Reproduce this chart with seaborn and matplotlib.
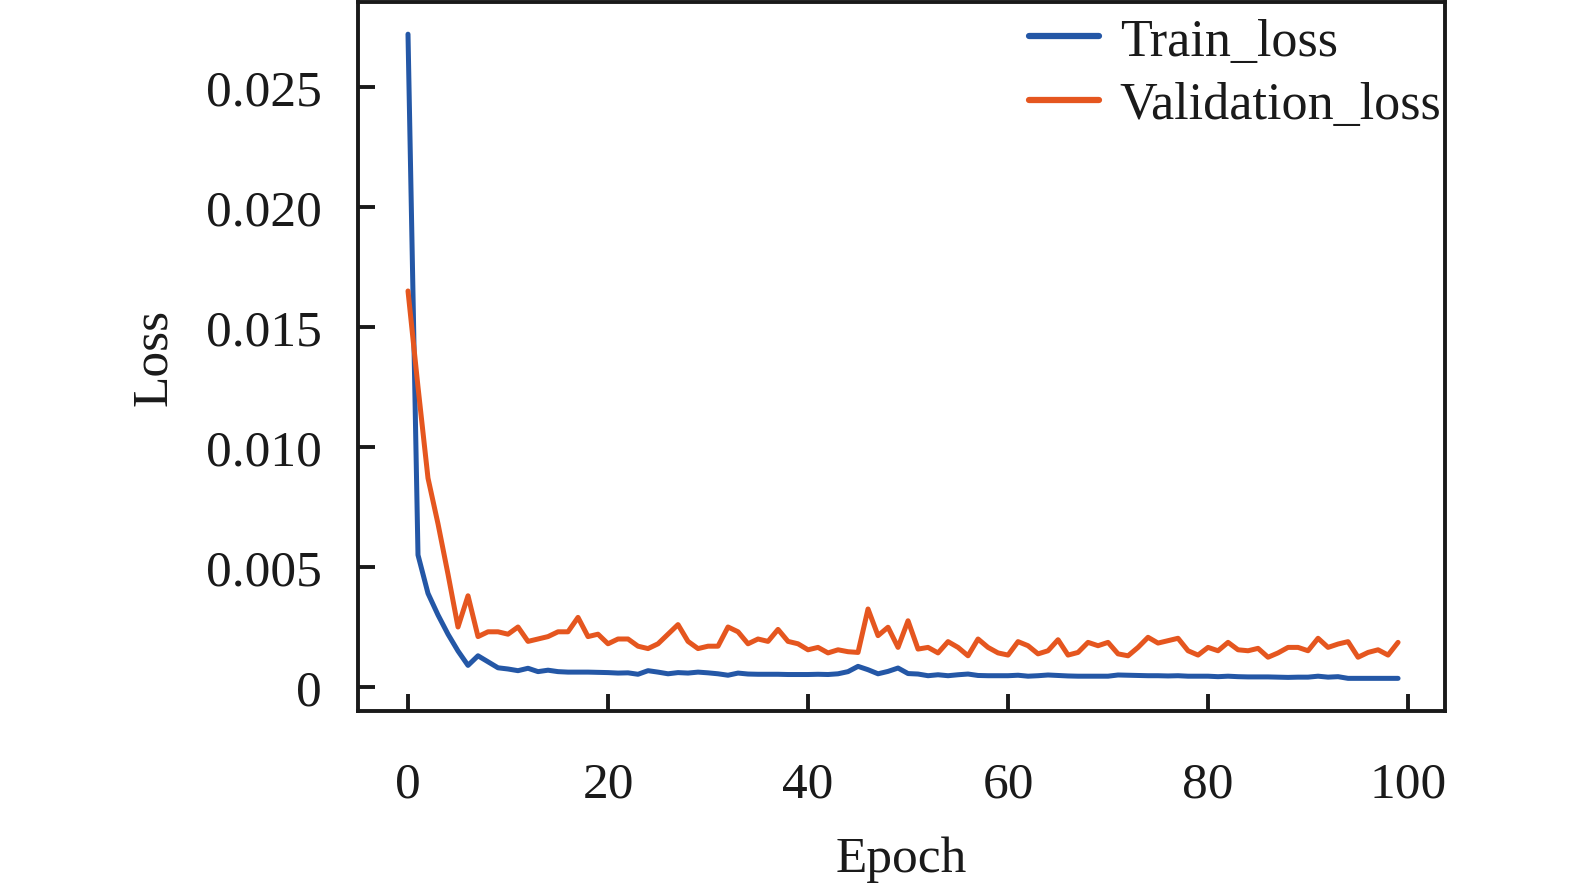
import numpy as np
import pandas as pd
import matplotlib
matplotlib.use("Agg")
import matplotlib.pyplot as plt
import seaborn as sns

epochs = list(range(100))

train_loss = [
    0.0272, 0.0055, 0.0039, 0.0030, 0.0022, 0.0015, 0.0009, 0.0013, 0.00105, 0.0008,
    0.00075, 0.00068, 0.00078, 0.00064, 0.0007, 0.00064, 0.00062, 0.00062, 0.00062, 0.00061,
    0.0006, 0.00058, 0.00059, 0.00053, 0.00068, 0.00062, 0.00055, 0.0006, 0.00058, 0.00062,
    0.00059, 0.00055, 0.00049, 0.00058, 0.00054, 0.00053, 0.00053, 0.00053, 0.00052, 0.00052,
    0.00052, 0.00053, 0.00052, 0.00055, 0.00064, 0.00086, 0.00072, 0.00055, 0.00065, 0.00079,
    0.00056, 0.00054, 0.00047, 0.00051, 0.00047, 0.00051, 0.00054, 0.00048, 0.00047, 0.00047,
    0.00047, 0.00049, 0.00045, 0.00047, 0.0005, 0.00048, 0.00046, 0.00045, 0.00045, 0.00045,
    0.00045, 0.0005, 0.00049, 0.00048, 0.00047, 0.00047, 0.00046, 0.00047, 0.00045, 0.00045,
    0.00045, 0.00043, 0.00045, 0.00043, 0.00042, 0.00042, 0.00042, 0.00041, 0.0004, 0.00041,
    0.00041, 0.00045, 0.00041, 0.00043, 0.00036, 0.00036, 0.00036, 0.00036, 0.00036, 0.00036,
]

validation_loss = [
    0.0165, 0.0125, 0.0087, 0.0068, 0.0047, 0.0025, 0.0038, 0.0021, 0.0023, 0.0023,
    0.0022, 0.0025, 0.0019, 0.0020, 0.0021, 0.0023, 0.0023, 0.0029, 0.0021, 0.0022,
    0.0018, 0.0020, 0.0020, 0.0017, 0.0016, 0.0018, 0.0022, 0.0026, 0.0019, 0.0016,
    0.0017, 0.0017, 0.0025, 0.0023, 0.0018, 0.0020, 0.0019, 0.0024, 0.0019, 0.0018,
    0.00155, 0.00165, 0.00142, 0.00155, 0.00147, 0.00144, 0.00325, 0.00214, 0.00249, 0.00165,
    0.00276, 0.00158, 0.00165, 0.00142, 0.00189, 0.00165, 0.0013, 0.0020, 0.00165, 0.00142,
    0.00133, 0.00189, 0.00172, 0.00138, 0.00151, 0.00197, 0.00133, 0.00144, 0.00186, 0.00172,
    0.00186, 0.00138, 0.0013, 0.00165, 0.00207, 0.00183, 0.00193, 0.00203, 0.00151, 0.00133,
    0.00165, 0.00151, 0.00186, 0.00155, 0.00151, 0.00161, 0.00124, 0.00142, 0.00165, 0.00165,
    0.00151, 0.00203, 0.00165, 0.00179, 0.00189, 0.00124, 0.00144, 0.00155, 0.00133, 0.00186,
]

series_names = ["Train_loss", "Validation_loss"]
y_ticks = [0, 0.005, 0.010, 0.015, 0.020, 0.025]
y_tick_labels = ["0", "0.005", "0.010", "0.015", "0.020", "0.025"]
x_ticks = [0, 20, 40, 60, 80, 100]

df = pd.DataFrame({
    "Epoch": epochs * 2,
    "Loss": train_loss + validation_loss,
    "Series": [series_names[0]] * len(epochs) + [series_names[1]] * len(epochs),
})

sns.set_style("ticks")
plt.rcParams["font.family"] = ["Liberation Serif", "DejaVu Serif"]

fig = plt.figure(figsize=(15.75, 8.87), dpi=100)
ax = fig.add_axes([0.2273, 0.1973, 0.6902, 0.7993])

palette = {"Train_loss": "#2457a6", "Validation_loss": "#e5561f"}
sns.lineplot(data=df, x="Epoch", y="Loss", hue="Series", palette=palette,
             linewidth=3.6, ax=ax, legend=True)

ax.set_xlim(-5, 103.7)
ax.set_ylim(-0.001, 0.02854)
ax.set_xticks(x_ticks)
ax.set_yticks(y_ticks)
ax.set_yticklabels(y_tick_labels)
ax.tick_params(direction="in", length=12, width=2.8, labelsize=37, colors="#1a1a1a")
ax.tick_params(axis="y", pad=26)
ax.tick_params(axis="x", pad=36)
for s in ax.spines.values():
    s.set_linewidth(2.8)
    s.set_color("#1a1a1a")

ax.set_xlabel("Epoch", fontsize=37, labelpad=20, color="#1a1a1a")
ax.set_ylabel("Loss", fontsize=37, labelpad=21, color="#1a1a1a")

leg = ax.legend(loc="upper right", bbox_to_anchor=(1.0, 0.983), frameon=False,
                fontsize=37.5, handlelength=1.35, handletextpad=0.4,
                labelspacing=0.3, borderaxespad=0.07, borderpad=0.0)
for line in leg.get_lines():
    line.set_linewidth(4.5)
for t in leg.get_texts():
    t.set_color("#1a1a1a")

fig.savefig("out.png", dpi=100)
